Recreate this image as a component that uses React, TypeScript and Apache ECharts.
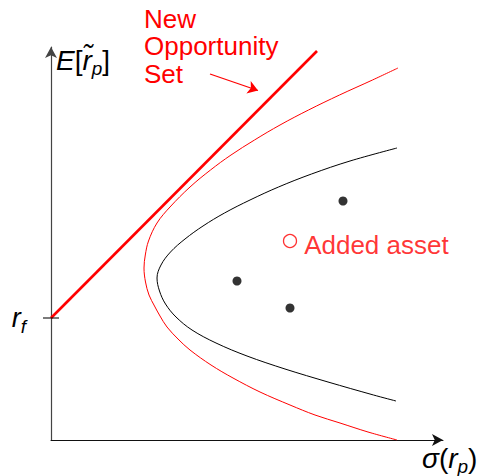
import React, { useEffect, useRef } from "react";
import * as echarts from "echarts";

// Data units: arbitrary (sigma on x, expected return on y)
const X_MAX = 392;
const Y_MAX = 393;
const RF = 122;

const frontierOriginal: [number, number][] = [
  [346, 292], [299, 279], [260.5, 266], [227.5, 253], [199, 240], [173.5, 227],
  [152, 214], [134, 201], [119.5, 188], [110, 175], [106, 162], [108.5, 149],
  [114.5, 136], [125, 123], [141, 110], [165, 97], [196, 84], [234, 71],
  [277, 58], [322.5, 45], [345, 39],
];

const frontierNew: [number, number][] = [
  [347, 372], [321.5, 360], [288.5, 345], [257.5, 330], [229, 315], [203.5, 300],
  [180, 285], [159.5, 270], [139, 253], [119, 233], [106, 217], [97.5, 199],
  [94.3, 185], [93, 172], [94.5, 158], [98, 145], [103.5, 134], [109, 124],
  [116, 113], [127, 101], [139, 90], [160, 75], [182, 62], [209, 48],
  [239, 35], [264, 25], [289, 17], [317, 8], [346, 0],
];

const opportunityLine: [number, number][] = [[0, RF], [266, 389]];
const assets: [number, number][] = [[292, 239], [186, 159], [239, 132]];
const addedAsset: [number, number][] = [[239, 199]];
const annotationArrow: [number, number][] = [[159, 366], [207, 349.5]];

const RED = "#ff0000";
const FONT = '"Liberation Sans", Arial, sans-serif';

export default function App() {
  const ref = useRef<HTMLDivElement>(null);
  useEffect(() => {
    if (!ref.current) return;
    const chart = echarts.init(ref.current, undefined, { renderer: "svg" });
    const mathRich = {
      i: { fontFamily: FONT, fontStyle: "italic", fontSize: 28, fill: "#000" },
      n: { fontFamily: FONT, fontSize: 28, fill: "#000" },
      s: { fontFamily: FONT, fontStyle: "italic", fontSize: 19, fill: "#000", padding: [16, 0, 0, 0] },
    };
    chart.setOption({
      animation: false,
      backgroundColor: "#fff",
      grid: { left: 51, top: 47, right: 45, bottom: 36, containLabel: false },
      xAxis: {
        type: "value",
        min: 0,
        max: X_MAX,
        axisLine: {
          show: true,
          symbol: ["none", "arrow"],
          symbolSize: [9, 11],
          lineStyle: { color: "#111", width: 1 },
        },
        axisTick: { show: false },
        axisLabel: { show: false },
        splitLine: { show: false },
      },
      yAxis: {
        type: "value",
        min: 0,
        max: Y_MAX,
        axisLine: {
          show: true,
          symbol: ["none", "arrow"],
          symbolSize: [9, 11],
          lineStyle: { color: "#444", width: 1.2 },
        },
        axisTick: { show: false },
        splitLine: { show: false },
        axisLabel: {
          show: true,
          customValues: [RF],
          margin: 25,
          formatter: (v: number) => (Math.abs(v - RF) < 1e-6 ? "{i|r}{s|f}" : ""),
          rich: {
            i: { fontFamily: FONT, fontStyle: "italic", fontSize: 27, color: "#000" },
            s: { fontFamily: FONT, fontStyle: "italic", fontSize: 19, color: "#000", padding: [16, 0, 0, 0] },
          },
        },
      },
      series: [
        {
          type: "line",
          data: frontierOriginal,
          smooth: 0.35,
          symbol: "none",
          lineStyle: { color: "#000", width: 1 },
          z: 2,
        },
        {
          type: "line",
          data: frontierNew,
          smooth: 0.35,
          symbol: "none",
          lineStyle: { color: RED, width: 1 },
          z: 2,
        },
        {
          type: "line",
          data: opportunityLine,
          symbol: "none",
          lineStyle: { color: RED, width: 2.6 },
          z: 3,
        },
        {
          type: "scatter",
          data: assets,
          symbol: "circle",
          symbolSize: 9,
          itemStyle: { color: "#000" },
          z: 4,
        },
        {
          type: "scatter",
          data: addedAsset,
          symbol: "circle",
          symbolSize: 13,
          itemStyle: { color: "#fff", borderColor: RED, borderWidth: 1.3 },
          label: {
            show: true,
            position: "right",
            distance: 7,
            offset: [0, 4],
            formatter: "Added asset",
            color: RED,
            fontFamily: FONT,
            fontSize: 26,
          },
          z: 4,
        },
        {
          type: "scatter",
          data: [[0, RF]],
          symbol: "rect",
          symbolSize: [16, 1.3],
          itemStyle: { color: "#000" },
          clip: false,
          z: 5,
        },
        {
          type: "lines",
          coordinateSystem: "cartesian2d",
          data: [{ coords: annotationArrow }],
          symbol: ["none", "arrow"],
          symbolSize: [8, 10],
          lineStyle: { color: RED, width: 1.3, opacity: 1 },
          z: 5,
        },
      ],
      graphic: [
        {
          type: "text",
          x: 144,
          y: 5,
          style: {
            text: "New\nOpportunity\nSet",
            fill: RED,
            font: `26px ${FONT}`,
            lineHeight: 27.5,
            verticalAlign: "top",
          },
        },
        {
          type: "text",
          x: 56,
          y: 60,
          style: {
            text: "{i|E}{n|[}{i|r\u0303}{s|p}{n|]}",
            verticalAlign: "middle",
            rich: mathRich,
          },
        },
        {
          type: "text",
          x: 422,
          y: 476,
          style: {
            text: "{i|\u03c3}{n|(}{i|r}{s|p}{n|)}",
            verticalAlign: "bottom",
            rich: mathRich,
          },
        },
      ],
    });
    return () => chart.dispose();
  }, []);
  return (
    <div
      ref={ref}
      style={{ position: "fixed", left: 0, top: 0, width: 488, height: 476 }}
    />
  );
}
